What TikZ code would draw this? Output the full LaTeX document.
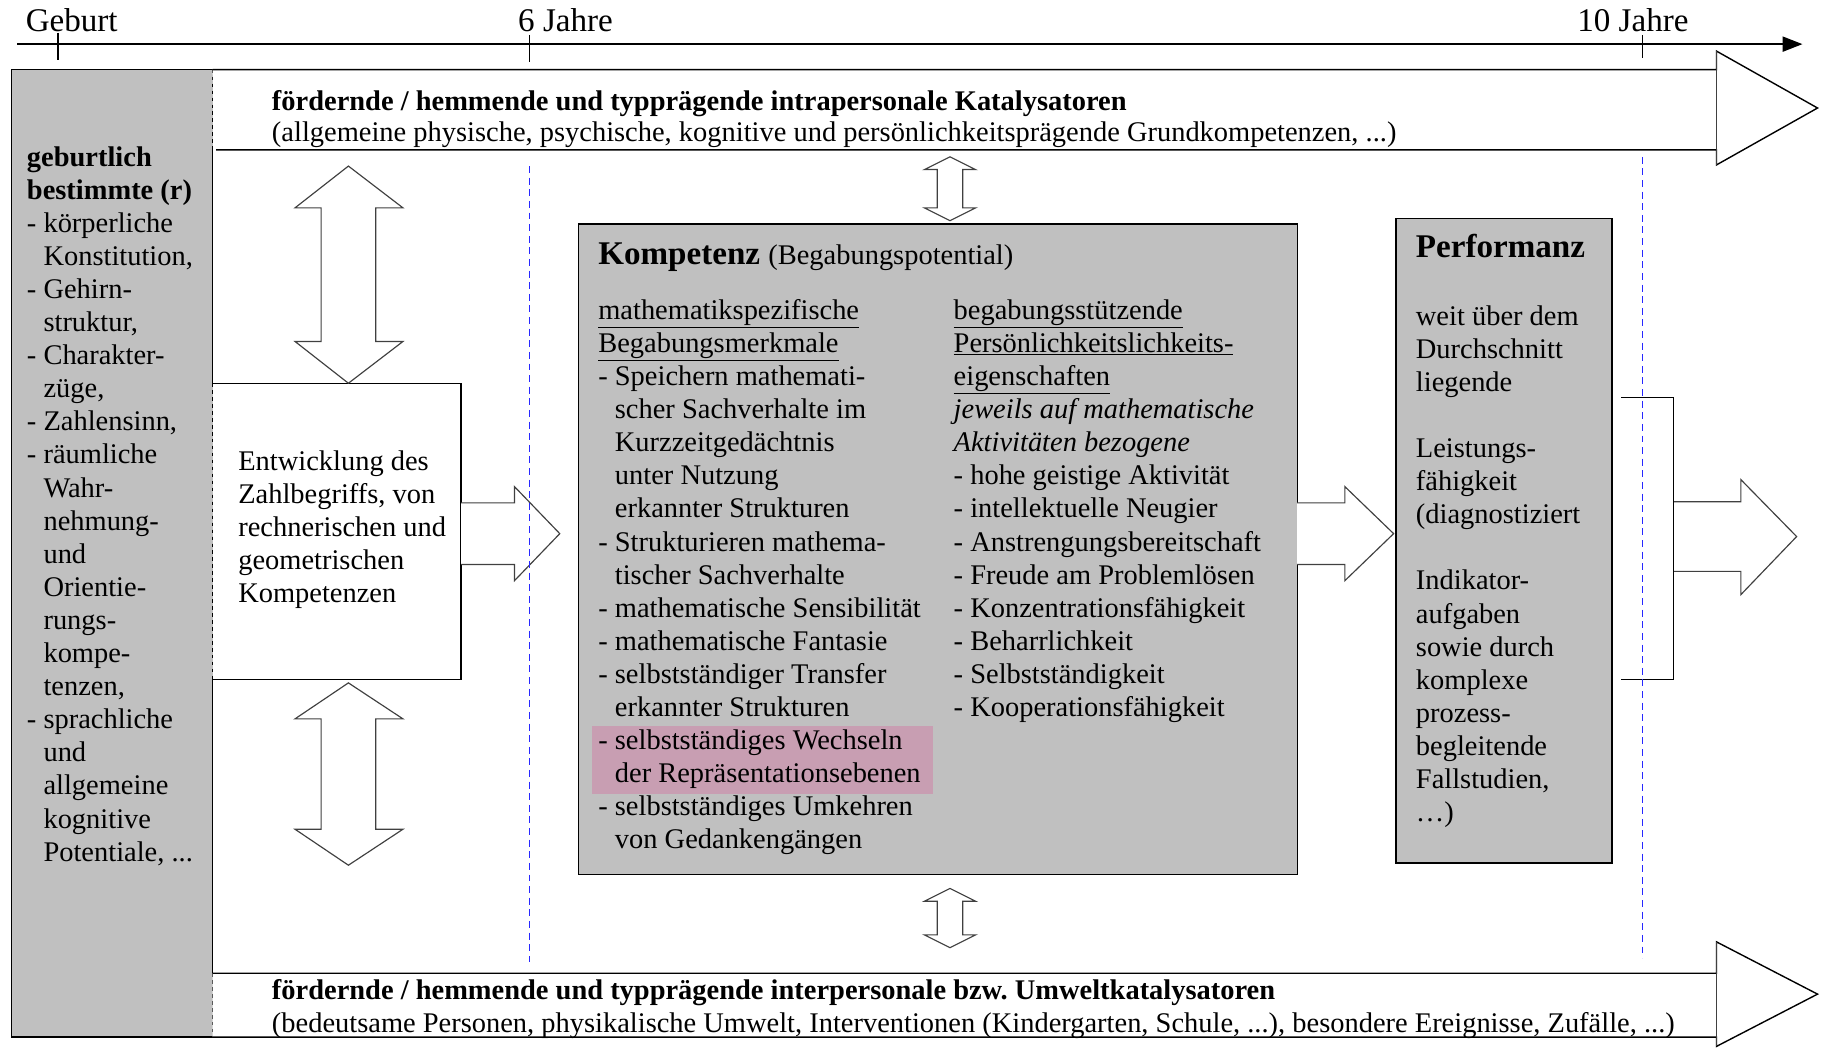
\documentclass[tikz,border=0pt]{standalone}
\usepackage{fontspec}
\setmainfont{Liberation Serif}
\usetikzlibrary{arrows.meta}
\definecolor{boxgray}{RGB}{192,192,192}
\definecolor{marked}{RGB}{200,158,178}
\definecolor{guideblue}{RGB}{40,40,255}
\newcommand{\ind}{\hphantom{-\ }}
\newcommand{\textlines}[1]{\begin{tabular}[t]{@{}l@{}}#1\end{tabular}}

\begin{document}
\begin{tikzpicture}[x=1pt,y=-1pt,
  txt/.style={anchor=base west,inner sep=0pt,font=\fontsize{24.5}{28.5}\selectfont},
  big/.style={anchor=base west,inner sep=0pt,font=\fontsize{28.5}{30}\selectfont},
  graybox/.style={draw,fill=boxgray,line width=1.2pt},
  whitebox/.style={draw,fill=white,line width=1.2pt},
  blockarrow/.style={draw=black!75,fill=white,line width=1pt},
  guide/.style={draw=guideblue,dash pattern=on 6pt off 4pt,line width=1pt}]
\useasboundingbox (0,0) rectangle (1568,905);

% left column
\fill[boxgray] (10,60) rectangle (183,893);
\draw[line width=1.2pt] (183,60) -- (10,60) -- (10,893) -- (183,893);
\draw[line width=1pt] (183,129) -- (183,330) (183,585) -- (183,838);
\draw[line width=1pt,dashed] (183,60) -- (183,129) (183,330) -- (183,585) (183,838) -- (183,893);

% catalyst bands
\filldraw[whitebox] (183,60) -- (1478,60) -- (1478,44) -- (1565,93) -- (1478,142) -- (1478,129) -- (186,129);
\draw[line width=1pt,black!75] (1478,44) -- (1478,142);
\filldraw[whitebox] (183,838) -- (1478,838) -- (1478,811) -- (1565,856) -- (1478,901) -- (1478,893) -- (183,893);
\draw[line width=1pt,black!75] (1478,811) -- (1478,901);

% boxes
\filldraw[whitebox] (183,330) -- (397,330) -- (397,585) -- (183,585);
\draw[line width=1pt,dashed] (183,330) -- (183,585);
\filldraw[graybox] (498,193) rectangle (1117,753);
\fill[marked] (510,625) rectangle (803,684);
\filldraw[graybox] (1202,188) rectangle (1388,743);

% block arrows
\filldraw[blockarrow] (300,143) -- (347,179) -- (323.5,179) -- (323.5,294) -- (347,294) -- (300,330)
  -- (254,294) -- (276.5,294) -- (276.5,179) -- (254,179) -- cycle;
\filldraw[blockarrow] (300,588) -- (347,619) -- (323.5,619) -- (323.5,714) -- (347,714) -- (300,745)
  -- (254,714) -- (276.5,714) -- (276.5,619) -- (254,619) -- cycle;
\filldraw[blockarrow] (818,135) -- (840,146) -- (829,146) -- (829,179) -- (840,179) -- (818,190)
  -- (796,179) -- (807,179) -- (807,146) -- (796,146) -- cycle;
\filldraw[blockarrow] (818,765) -- (840,776) -- (829,776) -- (829,805) -- (840,805) -- (818,816)
  -- (796,805) -- (807,805) -- (807,776) -- (796,776) -- cycle;
\filldraw[blockarrow] (397,433) -- (443,433) -- (443,419) -- (482,459.5) -- (443,500) -- (443,486) -- (397,486);
\filldraw[blockarrow] (1117,433) -- (1158,433) -- (1158,419) -- (1200,459.5) -- (1158,500) -- (1158,486) -- (1117,486);
\filldraw[blockarrow] (1441,432) -- (1499,432) -- (1499,413) -- (1547,462) -- (1499,512) -- (1499,492) -- (1441,492);
\draw[line width=1pt] (1396,342) -- (1441,342) -- (1441,585) -- (1396,585);

% age guides
\draw[guide] (456,143) -- (456,828);
\draw[guide] (1414,135) -- (1414,825);

% time axis
\coordinate (t0) at (15,38);
\coordinate (t1) at (1552,38);
\draw[line width=1.2pt,-{Triangle[length=17pt,width=13pt]}] (t0) -- (t1);
\draw[line width=1pt] (50,28) -- (50,52) (456,30) -- (456,53) (1414,30) -- (1414,50);
\node[big] (geburt) at (22,27) {Geburt};
\node[big] (sechs) at (446,27) {6 Jahre};
\node[big] (zehn) at (1358,27) {10 Jahre};

% texts
\node[txt] (intra) at (234,95) {\textbf{fördernde / hemmende und typprägende intrapersonale Katalysatoren}};
\node[txt] (intrasub) at (234,122) {(allgemeine physische, psychische, kognitive und persönlichkeitsprägende Grundkompetenzen, ...)};
\node[txt] (inter) at (234,861) {\textbf{fördernde / hemmende und typprägende interpersonale bzw.\ Umweltkatalysatoren}};
\node[txt] (intersub) at (234,889) {(bedeutsame Personen, physikalische Umwelt, Interventionen (Kindergarten, Schule, ...), besondere Ereignisse, Zufälle, ...)};

\node[txt] (anlage) at (23,143) {\textlines{\textbf{geburtlich}\\ \textbf{bestimmte (r)}\\ - körperliche\\ \ind Konstitution,\\ - Gehirn-\\ \ind struktur,\\ - Charakter-\\ \ind züge,\\ - Zahlensinn,\\ - räumliche\\ \ind Wahr-\\ \ind nehmung-\\ \ind und\\ \ind Orientie-\\ \ind rungs-\\ \ind kompe-\\ \ind tenzen,\\ - sprachliche\\ \ind und\\ \ind allgemeine\\ \ind kognitive\\ \ind Potentiale, ...}};

\node[txt] (entw) at (205,405) {\textlines{Entwicklung des\\ Zahlbegriffs, von\\ rechnerischen und\\ geometrischen\\ Kompetenzen}};

\node[big] (komp) at (515,228) {\textbf{Kompetenz} {\fontsize{24.5}{28.5}\selectfont(Begabungspotential)}};
\node[txt] (merkmale) at (515,275) {\textlines{\underline{mathematikspezifische}\\ \underline{Begabungsmerkmale}\\ - Speichern mathemati-\\ \ind scher Sachverhalte im\\ \ind Kurzzeitgedächtnis\\ \ind unter Nutzung\\ \ind erkannter Strukturen\\ - Strukturieren mathema-\\ \ind tischer Sachverhalte\\ - mathematische Sensibilität\\ - mathematische Fantasie\\ - selbstständiger Transfer\\ \ind erkannter Strukturen\\ - selbstständiges Wechseln\\ \ind der Repräsentationsebenen\\ - selbstständiges Umkehren\\ \ind von Gedankengängen}};
\node[txt] (stuetz) at (821,275) {\textlines{\underline{begabungsstützende}\\ \underline{Persönlichkeitslichkeits-}\\ \underline{eigenschaften}\\ \textit{jeweils auf mathematische}\\ \textit{Aktivitäten bezogene}\\ - hohe geistige Aktivität\\ - intellektuelle Neugier\\ - Anstrengungsbereitschaft\\ - Freude am Problemlösen\\ - Konzentrationsfähigkeit\\ - Beharrlichkeit\\ - Selbstständigkeit\\ - Kooperationsfähigkeit}};

\node[big] (perf) at (1219,222) {\textbf{Performanz}};
\node[txt] (perftext) at (1219,280) {\textlines{weit über dem\\ Durchschnitt\\ liegende\\ \\ Leistungs-\\ fähigkeit\\ (diagnostiziert\\ \\ Indikator-\\ aufgaben\\ sowie durch\\ komplexe\\ prozess-\\ begleitende\\ Fallstudien,\\ \dots)}};
\end{tikzpicture}
\end{document}
